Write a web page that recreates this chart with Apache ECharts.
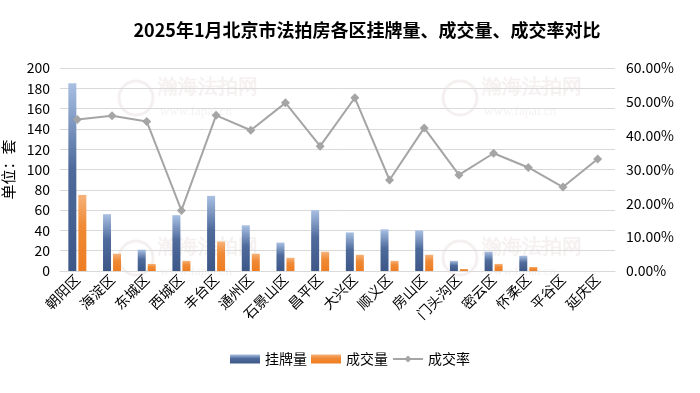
<!DOCTYPE html>
<html><head><meta charset="utf-8">
<script src="https://cdn.jsdelivr.net/npm/echarts@6/dist/echarts.min.js"></script>
<style>html,body{margin:0;padding:0;background:#fff}#c{width:700px;height:393px}</style>
</head><body><div id="c"></div>
<script>
const categories = ['朝阳区','海淀区','东城区','西城区','丰台区','通州区','石景山区','昌平区','大兴区','顺义区','房山区','门头沟区','密云区','怀柔区','平谷区','延庆区'];
const listings = [185,56,21,55,74,45,28,60,38,41,40,10,19,15,0,0];
const deals = [75,17,7,10,29,17,13,19,16,10,16,2,7,4,0,0];
const rates = [44.8,45.9,44.2,17.9,46.0,41.6,49.7,36.9,51.2,26.9,42.3,28.4,34.8,30.6,24.8,33.1];
const leftTicks = {min:0, max:200, interval:20};
const rightTicks = {min:0, max:60, interval:10};

const F = "'Noto Sans CJK SC', 'Open Sans', sans-serif";
const chart = echarts.init(document.getElementById('c'), null, {renderer:'canvas'});
const wm = [];
[[158,78],[482,78],[158,238],[482,238]].forEach(p=>{
  wm.push({type:'circle', shape:{cx:p[0]-22, cy:p[1]+20, r:17}, z:-1, style:{fill:'none', stroke:'rgba(200,170,170,0.18)', lineWidth:3}});
  wm.push({type:'text', left:p[0], top:p[1], z:-1, style:{text:'瀚海法拍网', fill:'rgba(200,170,170,0.16)', font:'bold 20px serif'}});
  wm.push({type:'text', left:p[0]+2, top:p[1]+27, z:-1, style:{text:'www.fapai.cn', fill:'rgba(200,170,170,0.16)', font:'13px serif'}});
});
chart.setOption({
  backgroundColor:'#fff',
  animation:false,
  graphic: wm,
  title:{text:'2025年1月北京市法拍房各区挂牌量、成交量、成交率对比', left:362, textAlign:'center', top:16,
    textStyle:{fontSize:18, fontWeight:'bold', color:'#000', fontFamily:F}},
  legend:{bottom:22, left:'center', itemGap:4, itemWidth:30, itemHeight:9,
    textStyle:{fontSize:14, color:'#000', fontFamily:F},
    data:[{name:'挂牌量', icon:'rect'},{name:'成交量', icon:'rect'},{name:'成交率'}]},
  grid:{left:60, right:85, top:68, bottom:122, containLabel:false, outerBoundsMode:'none'},
  xAxis:{type:'category', data:categories,
    axisLine:{lineStyle:{color:'#d9d9d9'}}, axisTick:{show:false},
    axisLabel:{rotate:45, fontSize:14, color:'#000', fontFamily:F, margin:6, interval:0}},
  yAxis:[
    {type:'value', min:leftTicks.min, max:leftTicks.max, interval:leftTicks.interval,
      name:'单位：套', nameLocation:'middle', nameGap:42, nameRotate:90,
      nameTextStyle:{fontSize:15, color:'#000', fontFamily:F},
      axisLabel:{fontSize:14, color:'#000', fontFamily:F, margin:10},
      splitLine:{lineStyle:{color:'#d9d9d9', width:1}}, axisLine:{show:false}, axisTick:{show:false}},
    {type:'value', min:rightTicks.min, max:rightTicks.max, interval:rightTicks.interval,
      axisLabel:{fontSize:14, color:'#000', fontFamily:F, margin:11, formatter:v=>v.toFixed(2)+'%'},
      splitLine:{show:false}, axisLine:{show:false}, axisTick:{show:false}}
  ],
  series:[
    {name:'挂牌量', type:'bar', data:listings, barWidth:8, barGap:'25%',
      itemStyle:{color:new echarts.graphic.LinearGradient(0,0,0,1,[{offset:0,color:'#a9c0e3'},{offset:0.45,color:'#4e6b9c'},{offset:1,color:'#3d5787'}])}},
    {name:'成交量', type:'bar', data:deals, barWidth:8,
      itemStyle:{color:new echarts.graphic.LinearGradient(0,0,0,1,[{offset:0,color:'#f6b27a'},{offset:0.4,color:'#f08a36'},{offset:1,color:'#ee7d22'}])}},
    {name:'成交率', type:'line', yAxisIndex:1, data:rates, symbol:'diamond', symbolSize:9,
      lineStyle:{color:'#a5a5a5', width:2}, itemStyle:{color:'#a5a5a5'}}
  ]
});
</script></body></html>
